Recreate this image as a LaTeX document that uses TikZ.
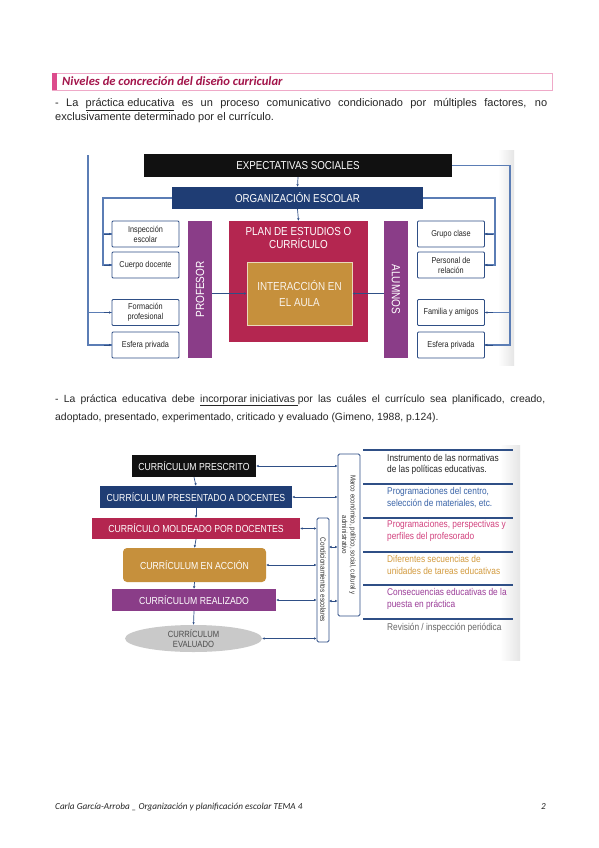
\documentclass[tikz,border=0pt]{standalone}
\usepackage{fontspec}
\setmainfont{Liberation Sans}
\newfontfamily\carlito{Carlito}
\newfontfamily\narrow[FakeStretch=0.85]{Liberation Sans}
\usetikzlibrary{arrows.meta,shapes.geometric}
\definecolor{cblack}{HTML}{111111}
\definecolor{cblue}{HTML}{1F3D74}
\definecolor{ccrim}{HTML}{B42650}
\definecolor{cpurp}{HTML}{8A3D88}
\definecolor{cgold}{HTML}{C6903C}
\definecolor{cline}{HTML}{2F4F86}
\definecolor{clight}{HTML}{5B7DB5}
\definecolor{ctitle}{HTML}{A3154B}
\definecolor{cpinkb}{HTML}{EFA9C8}
\definecolor{cpinkbar}{HTML}{DC4C8C}
\definecolor{ctxtblue}{HTML}{3A64A8}
\definecolor{ctxtpink}{HTML}{D2427E}
\definecolor{ctxtgold}{HTML}{D39B3F}
\definecolor{ctxtpurp}{HTML}{9B3D98}
\definecolor{ctxtgray}{HTML}{666666}
\definecolor{cgrayell}{HTML}{C9C9C9}
\begin{document}
\begin{tikzpicture}[x=1pt,y=-1pt,
  bar/.style={inner sep=0pt, text=white, font=\narrow\fontsize{11.5}{13}\selectfont},
  sbox/.style={draw=cline, line width=0.8pt, fill=white, rounded corners=1pt,
    minimum width=67pt, minimum height=26pt, inner sep=1pt, align=center,
    text=black!85, font=\narrow\fontsize{8.6}{10}\selectfont},
  bbar/.style={inner sep=0pt, text=white, minimum height=22pt,
    font=\narrow\fontsize{10.2}{12}\selectfont},
  conn/.style={draw=clight, line width=1.1pt},
  tip/.style={-{Latex[length=2.5pt,width=2.5pt]}},
  dtip/.style={draw=cline, line width=0.7pt,
    {Latex[length=2.5pt,width=2.5pt]}-{Latex[length=2.5pt,width=2.5pt]}},
  sarr/.style={draw=cline, line width=0.7pt, -{Latex[length=2.5pt,width=2.5pt]}},
  body/.style={inner sep=0pt, font=\fontsize{11}{13}\selectfont, text=black!85},
  bodyb/.style={inner sep=0pt, font=\fontsize{10.4}{12}\selectfont, text=black!85},
  rtxt/.style={inner sep=0pt, anchor=west, align=left,
    font=\narrow\fontsize{9.8}{11.2}\selectfont},
  sep/.style={draw=cline, line width=1.5pt}
]
\useasboundingbox (0,0) rectangle (599,848);
\fill[white] (0,0) rectangle (599,848);

% ---------- title ----------
\node[draw=cpinkb, line width=1pt, minimum width=500pt, minimum height=17pt,
  anchor=north west, inner sep=0pt] (titlebox) at (52,73) {};
\node[fill=cpinkbar, minimum width=5pt, minimum height=17pt, anchor=north west,
  inner sep=0pt] (titlebar) at (52,73) {};
\node[anchor=west, inner sep=0pt, text=ctitle,
  font=\carlito\bfseries\itshape\fontsize{12.6}{14}\selectfont] (title) at (62,81.5)
  {Niveles de concreción del diseño curricular};

% ---------- paragraph 1 ----------
\node[body, anchor=base west] (p1a) at (55,107)
  {\makebox[492pt][s]{- La \underline{práctica educativa} es un proceso comunicativo condicionado por múltiples factores, no}};
\node[body, anchor=base west] (p1b) at (55,121)
  {exclusivamente determinado por el currículo.};

% ---------- top diagram ----------
\shade[left color=white, right color=black!10] (498,150) rectangle (514,365);

\node[bar, fill=cblack, minimum width=308pt, minimum height=23pt] (exp) at (298,165.5) {EXPECTATIVAS SOCIALES};
\node[bar, fill=cblue, minimum width=251pt, minimum height=22pt] (org) at (297.5,198) {ORGANIZACIÓN ESCOLAR};
\node[bar, fill=ccrim, minimum width=139pt, minimum height=121pt] (plan) at (298.5,281.5) {};
\node[bar, align=center, font=\narrow\fontsize{11.6}{13.5}\selectfont] (plantxt) at (298.5,238) {PLAN DE ESTUDIOS O\\CURRÍCULO};
\node[bar, fill=cgold, draw=white!65!cgold, line width=0.7pt, minimum width=105pt,
  minimum height=63pt, align=center, text=white!90!cgold,
  font=\narrow\fontsize{11.6}{15.5}\selectfont] (inter) at (299.5,293.5) {INTERACCIÓN EN\\EL AULA};
\node[bar, fill=cpurp, minimum width=137pt, minimum height=24pt, rotate=90,
  font=\narrow\fontsize{11.8}{13}\selectfont] (prof) at (200,289.5) {PROFESOR};
\node[bar, fill=cpurp, minimum width=137pt, minimum height=24pt, rotate=-90,
  font=\narrow\fontsize{11.8}{13}\selectfont] (alum) at (396,289.5) {ALUMNOS};

\node[sbox] (insp) at (145.5,234) {Inspección\\escolar};
\node[sbox] (cuer) at (145.5,265) {Cuerpo docente};
\node[sbox] (form) at (145.5,312.5) {Formación\\profesional};
\node[sbox] (esfl) at (145.5,345) {Esfera privada};
\node[sbox] (grup) at (451,234) {Grupo clase};
\node[sbox] (pers) at (451,265) {Personal de\\relación};
\node[sbox] (fami) at (451,312.5) {Familia y amigos};
\node[sbox] (esfr) at (451,345) {Esfera privada};

\draw[sarr] (exp.south) -- (org.north);
\draw[sarr] (org.south) -- (plan.north);
\draw[sarr] (prof.south |- inter.west) -- (inter.west);
\draw[sarr] (alum.south |- inter.east) -- (inter.east);

\coordinate (lo) at (88,155);
\coordinate (li) at (103,198);
\coordinate (ro) at (510,165.5);
\coordinate (ri) at (495,198);
\draw[conn] (lo) |- (esfl.west);
\draw[conn, tip, draw=cline, line width=0.6pt] ([xshift=-8pt]esfl.west) -- (esfl.west);
\draw[conn] (lo |- form.west) -- (form.west);
\draw[conn, tip, draw=cline, line width=0.6pt] ([xshift=-8pt]form.west) -- (form.west);
\draw[conn] (org.west) -- (li) |- (cuer.west);
\draw[conn, tip, draw=cline, line width=0.6pt] ([xshift=-8pt]cuer.west) -- (cuer.west);
\draw[conn] (li |- insp.west) -- (insp.west);
\draw[conn, tip, draw=cline, line width=0.6pt] ([xshift=-8pt]insp.west) -- (insp.west);

\draw[conn] (exp.east) -- (ro) |- (esfr.east);
\draw[conn, tip, draw=cline, line width=0.6pt] ([xshift=8pt]esfr.east) -- (esfr.east);
\draw[conn] (ro |- fami.east) -- (fami.east);
\draw[conn, tip, draw=cline, line width=0.6pt] ([xshift=8pt]fami.east) -- (fami.east);
\draw[conn] (org.east) -- (ri) |- (pers.east);
\draw[conn, tip, draw=cline, line width=0.6pt] ([xshift=8pt]pers.east) -- (pers.east);
\draw[conn] (ri |- grup.east) -- (grup.east);
\draw[conn, tip, draw=cline, line width=0.6pt] ([xshift=8pt]grup.east) -- (grup.east);

% ---------- paragraph 2 ----------
\node[bodyb, anchor=base west] (p2a) at (55,402)
  {\makebox[490pt][s]{- La práctica educativa debe \underline{incorporar iniciativas }por las cuáles el currículo sea planificado, creado,}};
\node[bodyb, anchor=base west] (p2b) at (55,420)
  {adoptado, presentado, experimentado, criticado y evaluado (Gimeno, 1988, p.124).};

% ---------- bottom diagram ----------
\shade[left color=white, right color=black!10] (500,445) rectangle (520,660);

\node[bbar, fill=cblack, minimum width=124pt] (presc) at (194,466) {CURRÍCULUM PRESCRITO};
\node[bbar, fill=cblue, minimum width=192pt] (pres) at (196,497) {CURRÍCULUM PRESENTADO A DOCENTES};
\node[bbar, fill=ccrim, minimum width=208pt, minimum height=21pt] (mold) at (196,528.5) {CURRÍCULO MOLDEADO POR DOCENTES};
\node[bbar, fill=cgold, minimum width=143pt, minimum height=34pt, rounded corners=4pt] (acc) at (194.5,565) {CURRÍCULUM EN ACCIÓN};
\node[bbar, fill=cpurp, minimum width=164pt] (real) at (194,600) {CURRÍCULUM REALIZADO};
\node[ellipse, fill=cgrayell, minimum width=137pt, minimum height=27pt, inner sep=0pt,
  align=center, text=black!70, font=\narrow\fontsize{9}{10.5}\selectfont] (eval) at (193.5,638.5) {CURRÍCULUM\\EVALUADO};

\node[draw=cline, line width=0.8pt, fill=white, rounded corners=1.5pt, rotate=-90,
  minimum width=124pt, minimum height=12pt, inner sep=0pt,
  font=\narrow\fontsize{7.6}{8}\selectfont, text=black!80] (cond) at (323,580) {Condicionamientos escolares};
\node[draw=cline, line width=0.8pt, fill=white, rounded corners=1.5pt, rotate=-90,
  minimum width=162pt, minimum height=22pt, inner sep=0pt, align=center,
  font=\narrow\fontsize{7.3}{8.3}\selectfont, text=black!80] (marco) at (349,535)
  {Marco económico, político, social, cultural y\\administrativo};

\draw[sarr] (presc.south) -- (pres.north);
\draw[sarr] (pres.south) -- (mold.north);
\draw[sarr] (mold.south) -- (acc.north);
\draw[sarr] (acc.south) -- (real.north);
\draw[sarr] (real.south) -- (eval.north);

% rotate=-90 -> node south = page left side
\draw[dtip] (presc.east) -- (marco.south |- presc.east);
\draw[dtip] (pres.east) -- (marco.south |- pres.east);
\draw[dtip] (mold.east) -- (cond.south |- mold.east);
\draw[dtip] (acc.east) -- (cond.south |- acc.east);
\draw[dtip] (real.east) -- (cond.south |- real.east);
\draw[dtip] (eval.east) -- (cond.south |- eval.east);
\coordinate (c1) at (329,547);
\coordinate (c2) at (329,601);
\draw[dtip] (c1) -- (marco.south |- c1);
\draw[dtip] (c2) -- (marco.south |- c2);

\draw[sep] (363,450) -- (513,450);
\draw[sep] (363,484) -- (513,484);
\draw[sep] (363,518) -- (513,518);
\draw[sep] (363,552) -- (513,552);
\draw[sep] (363,585) -- (513,585);
\draw[sep] (363,619) -- (513,619);

\node[rtxt, text=black!85] (r1) at (387,464.5) {Instrumento de las normativas\\de las políticas educativas.};
\node[rtxt, text=ctxtblue] (r2) at (387,497.5) {Programaciones del centro,\\selección de materiales, etc.};
\node[rtxt, text=ctxtpink] (r3) at (387,531) {Programaciones, perspectivas y\\perfiles del profesorado};
\node[rtxt, text=ctxtgold] (r4) at (387,565) {Diferentes secuencias de\\unidades de tareas educativas};
\node[rtxt, text=ctxtpurp] (r5) at (387,599) {Consecuencias educativas de la\\puesta en práctica};
\node[rtxt, text=ctxtgray] (r6) at (387,628) {Revisión / inspección periódica};

% ---------- footer ----------
\node[anchor=base west, inner sep=0pt, text=black!85,
  font=\carlito\itshape\fontsize{9.2}{11}\selectfont] (foot) at (55,809)
  {Carla García-Arroba \_ Organización y planificación escolar TEMA 4};
\node[anchor=base east, inner sep=0pt, text=black!85,
  font=\carlito\itshape\fontsize{9.2}{11}\selectfont] (pg) at (546,809) {2};
\end{tikzpicture}
\end{document}
